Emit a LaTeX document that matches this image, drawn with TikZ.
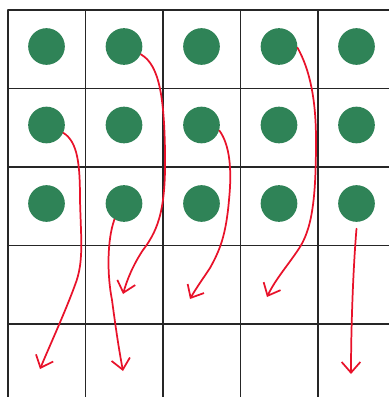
\documentclass[tikz,border=0pt]{standalone}
\usepackage{tikz}
\usetikzlibrary{arrows.meta}

\definecolor{dotgreen}{RGB}{47,131,87}
\definecolor{penred}{RGB}{232,18,42}

\begin{document}
\begin{tikzpicture}[x=0.75pt, y=-0.75pt, line cap=round, line join=round,
    gridline/.style={draw=black!85, line width=1.1pt},
    dot/.style={circle, fill=dotgreen, inner sep=0pt, minimum size=27.5pt},
    move/.style={draw=penred, line width=1.3pt, -{Straight Barb[length=8pt, width=14pt, line width=1.3pt]}}]
    \useasboundingbox (0,0) rectangle (389,397);
    % Grid
    \foreach \i in {0,...,4} {
        \draw[gridline] (8+77.5*\i,10) -- (8+77.5*\i,397);
        \draw[gridline] (8,10+78.5*\i) -- (389,10+78.5*\i);
    }
    % Dots
    \foreach \r in {1,2,3} {
        \foreach \c in {1,...,5} {
            \node[dot] (d\r\c) at (46.5+77.5*\c-77.5, 46.5+78.5*\r-78.5) {};
        }
    }
    % Targets
    \coordinate (e1) at (40,369);
    \coordinate (e2) at (123,294);
    \coordinate (e3) at (123,371);
    \coordinate (e4) at (190,299);
    \coordinate (e5) at (267,297);
    \coordinate (e6) at (351,374);
    % Moves
    \draw[move] (d21.-25) .. controls (78,142) and (80,165) .. (80,200)
        .. controls (81,240) and (84,262) .. (75,285)
        .. controls (66,310) and (50,345) .. (e1);
    \draw[move] (d12.-25) .. controls (160,65) and (164,100) .. (165,150)
        .. controls (166,205) and (160,228) .. (143,250)
        .. controls (133,265) and (127,280) .. (e2);
    \draw[move] (d32.-121) .. controls (107,240) and (107,275) .. (112,300)
        .. controls (116,330) and (119,350) .. (e3);
    \draw[move] (d23.-17) .. controls (230,145) and (232,170) .. (229,200)
        .. controls (226,235) and (220,250) .. (210,268)
        .. controls (202,280) and (195,290) .. (e4);
    \draw[move] (d14.-4) .. controls (310,70) and (316,100) .. (316,140)
        .. controls (316,200) and (312,230) .. (298,250)
        .. controls (288,265) and (275,280) .. (e5);
    \draw[move] ([yshift=-5pt]d35.south) .. controls (353,270) and (351,330) .. (e6);
\end{tikzpicture}
\end{document}
